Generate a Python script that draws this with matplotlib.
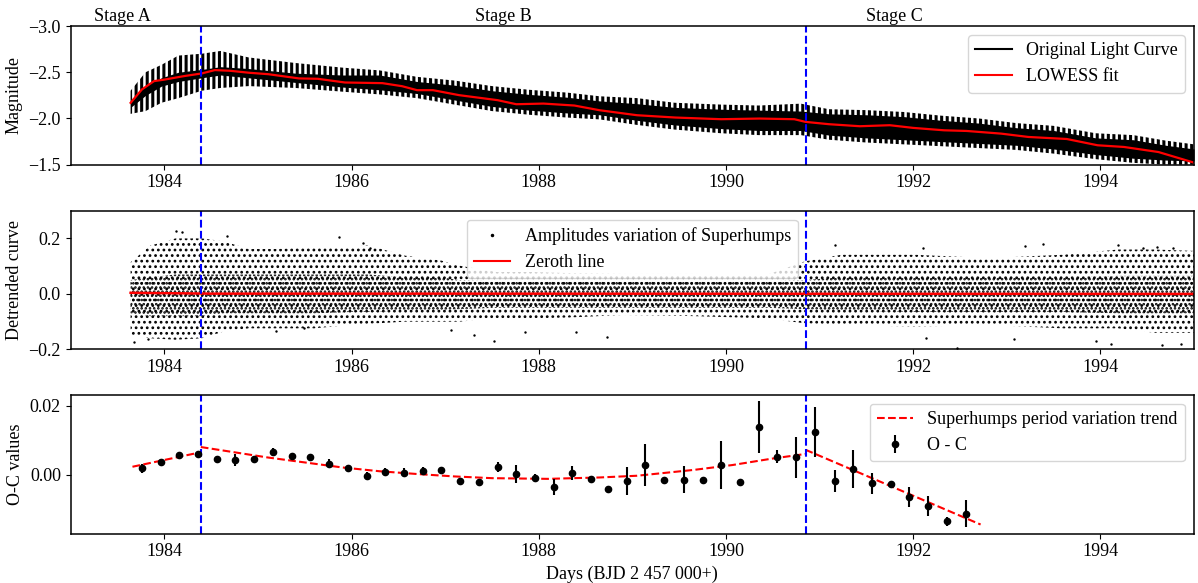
import matplotlib
matplotlib.use("Agg")
import matplotlib.pyplot as plt
import matplotlib.transforms as mtransforms
from matplotlib.lines import Line2D

plt.rcParams["font.family"] = ["Liberation Serif", "DejaVu Serif"]
plt.rcParams["font.size"] = 13
plt.rcParams["axes.linewidth"] = 1.1

# --- Stage boundaries (days) ---
STAGE_AB = 1984.39
STAGE_BC = 1990.85
STAGE_LABELS = ["Stage A", "Stage B", "Stage C"]
STAGE_LABEL_X = [1983.55, 1987.62, 1991.80]

# --- Top panel: light curve envelope (magnitudes) ---
LC_X = [1983.64, 1983.80, 1983.97, 1984.15, 1984.40, 1984.60, 1984.90, 1985.40,
        1985.90, 1986.30, 1986.70, 1987.10, 1987.50, 1987.90, 1988.30, 1988.65,
        1989.05, 1989.45, 1989.95, 1990.35, 1990.80, 1991.10, 1991.50, 1991.90,
        1992.30, 1992.70, 1993.10, 1993.50, 1993.95, 1994.35, 1994.70, 1995.00]
LC_BRIGHT = [-2.30, -2.50, -2.58, -2.68, -2.70, -2.73, -2.66, -2.60,
             -2.55, -2.52, -2.45, -2.41, -2.35, -2.31, -2.28, -2.24,
             -2.22, -2.17, -2.15, -2.14, -2.16, -2.10, -2.09, -2.07,
             -2.03, -2.00, -1.95, -1.92, -1.84, -1.82, -1.76, -1.72]
LC_FAINT = [-2.05, -2.08, -2.17, -2.22, -2.30, -2.33, -2.35, -2.33,
            -2.29, -2.26, -2.22, -2.15, -2.08, -2.04, -2.01, -1.99,
            -1.93, -1.88, -1.84, -1.82, -1.82, -1.77, -1.74, -1.72,
            -1.70, -1.68, -1.66, -1.62, -1.56, -1.52, -1.50, -1.50]
LC_CORE_BRIGHT = [-2.20, -2.36, -2.44, -2.50, -2.53, -2.56, -2.54, -2.49,
                  -2.47, -2.47, -2.40, -2.36, -2.30, -2.26, -2.23, -2.19,
                  -2.16, -2.12, -2.10, -2.09, -2.08, -2.05, -2.04, -2.02,
                  -1.98, -1.95, -1.90, -1.87, -1.79, -1.77, -1.71, -1.67]
LC_CORE_FAINT = [-2.12, -2.25, -2.35, -2.40, -2.44, -2.47, -2.44, -2.39,
                 -2.34, -2.31, -2.27, -2.20, -2.13, -2.09, -2.06, -2.04,
                 -1.98, -1.93, -1.89, -1.87, -1.87, -1.82, -1.79, -1.77,
                 -1.75, -1.73, -1.71, -1.67, -1.61, -1.57, -1.55, -1.54]

# LOWESS fit
LOWESS_X = [1983.64, 1983.76, 1983.89, 1984.00, 1984.21, 1984.40, 1984.54, 1984.70,
            1984.91, 1985.11, 1985.44, 1985.64, 1985.93, 1986.33, 1986.54, 1986.70,
            1986.87, 1987.15, 1987.56, 1987.76, 1988.05, 1988.38, 1988.65, 1989.05,
            1989.46, 1989.95, 1990.36, 1990.73, 1990.85, 1991.10, 1991.43, 1991.75,
            1992.00, 1992.33, 1992.57, 1992.94, 1993.23, 1993.64, 1993.97, 1994.25,
            1994.62, 1995.00]
LOWESS_Y = [-2.169, -2.313, -2.404, -2.420, -2.458, -2.487, -2.523, -2.516,
            -2.494, -2.479, -2.433, -2.429, -2.389, -2.382, -2.349, -2.306,
            -2.306, -2.252, -2.198, -2.154, -2.161, -2.140, -2.089, -2.035,
            -2.010, -1.992, -1.999, -1.992, -1.963, -1.938, -1.916, -1.927,
            -1.898, -1.872, -1.865, -1.836, -1.800, -1.778, -1.710, -1.692,
            -1.637, -1.522]

# --- Middle panel: detrended scatter envelope ---
DT_X = [1983.64, 1983.85, 1984.12, 1984.40, 1984.63, 1984.90, 1985.21, 1985.60,
        1986.00, 1986.18, 1986.57, 1986.96, 1987.15, 1987.54, 1987.93, 1988.32,
        1988.90, 1989.65, 1990.44, 1990.84, 1991.23, 1992.02, 1992.81, 1993.59,
        1994.19, 1994.58, 1995.00]
DT_HI = [0.114, 0.174, 0.200, 0.200, 0.190, 0.162, 0.162, 0.170,
         0.170, 0.175, 0.138, 0.120, 0.102, 0.079, 0.079, 0.075,
         0.072, 0.072, 0.069, 0.117, 0.141, 0.141, 0.129, 0.141,
         0.160, 0.160, 0.155]
DT_LO = [-0.148, -0.160, -0.165, -0.160, -0.136, -0.124, -0.124, -0.124,
         -0.112, -0.108, -0.100, -0.100, -0.100, -0.088, -0.088, -0.085,
         -0.076, -0.080, -0.088, -0.106, -0.112, -0.118, -0.112, -0.124,
         -0.124, -0.140, -0.140]
DT_CORE_HI = [0.05, 0.06, 0.07, 0.07, 0.07, 0.07, 0.07, 0.07,
              0.07, 0.07, 0.06, 0.06, 0.05, 0.045, 0.045, 0.045,
              0.045, 0.045, 0.045, 0.05, 0.06, 0.06, 0.06, 0.06,
              0.065, 0.065, 0.065]
DT_CORE_LO = [-0.07, -0.08, -0.08, -0.08, -0.07, -0.07, -0.07, -0.07,
              -0.065, -0.065, -0.06, -0.06, -0.055, -0.05, -0.05, -0.05,
              -0.05, -0.05, -0.05, -0.055, -0.06, -0.065, -0.065, -0.065,
              -0.07, -0.07, -0.07]
# isolated points outside the dense band
OUT_X = [1983.68, 1983.83, 1984.12, 1984.19, 1984.67, 1985.19, 1985.49, 1985.87,
         1986.12, 1986.20, 1987.06, 1987.31, 1987.52, 1987.85, 1988.40, 1988.73,
         1991.16, 1992.10, 1992.14, 1992.47, 1993.08, 1993.19, 1993.39, 1993.95,
         1994.11, 1994.19, 1994.46, 1994.60, 1994.66, 1994.78, 1994.86]
OUT_Y = [-0.175, -0.163, 0.227, 0.225, 0.207, -0.133, -0.124, 0.205,
         0.182, 0.164, -0.130, -0.148, -0.171, -0.138, -0.138, -0.154,
         0.177, 0.165, -0.158, -0.194, -0.161, 0.171, 0.180, -0.169,
         -0.182, 0.177, 0.165, 0.169, -0.185, 0.165, -0.179]
ZERO_X = [1983.64, 1984.50, 1987.00, 1995.00]
ZERO_Y = [0.004, 0.001, 0.001, 0.0]

# --- Bottom panel: O-C values ---
OC_X = [1983.76, 1983.97, 1984.16, 1984.36, 1984.56, 1984.76, 1984.96, 1985.16,
        1985.36, 1985.56, 1985.76, 1985.96, 1986.16, 1986.36, 1986.56, 1986.76,
        1986.96, 1987.16, 1987.36, 1987.56, 1987.76, 1987.96, 1988.16, 1988.36,
        1988.56, 1988.74, 1988.94, 1989.14, 1989.34, 1989.55, 1989.75, 1989.95,
        1990.15, 1990.35, 1990.55, 1990.75, 1990.95, 1991.16, 1991.36, 1991.56,
        1991.76, 1991.96, 1992.16, 1992.36, 1992.56]
OC_Y = [0.0018, 0.0037, 0.0057, 0.0059, 0.0046, 0.0043, 0.0046, 0.0066,
        0.0053, 0.0050, 0.0032, 0.0020, -0.0004, 0.0009, 0.0006, 0.0012,
        0.0014, -0.0018, -0.0021, 0.0023, 0.0001, -0.0009, -0.0035, 0.0006,
        -0.0012, -0.0040, -0.0018, 0.0028, -0.0016, -0.0014, -0.0016, 0.0028,
        -0.0022, 0.0138, 0.0052, 0.0050, 0.0123, -0.0018, 0.0017, -0.0025,
        -0.0028, -0.0064, -0.0090, -0.0134, -0.0113]
OC_ERR = [0.0014, 0.0008, 0.0007, 0.0007, 0.0009, 0.0017, 0.0008, 0.0011,
          0.0011, 0.0008, 0.0013, 0.0007, 0.0011, 0.0009, 0.0013, 0.0011,
          0.0008, 0.0007, 0.0007, 0.0015, 0.0026, 0.0011, 0.0024, 0.0020,
          0.0008, 0.0006, 0.0040, 0.0060, 0.0008, 0.0038, 0.0007, 0.0069,
          0.0008, 0.0075, 0.0018, 0.0060, 0.0073, 0.0033, 0.0055, 0.0030,
          0.0007, 0.0029, 0.0028, 0.0013, 0.0039]
TREND_A_X = [1983.66, 1984.39]
TREND_A_Y = [0.0023, 0.0065]
TREND_B_X = [1984.39, 1985.10, 1985.90, 1986.30, 1986.70, 1987.10, 1987.50, 1988.10,
             1988.65, 1989.05, 1989.66, 1990.07, 1990.48, 1990.85]
TREND_B_Y = [0.0080, 0.0050, 0.0021, 0.0010, 0.0002, -0.0005, -0.0010, -0.0012,
             -0.0008, -0.0003, 0.0014, 0.0028, 0.0046, 0.0060]
TREND_C_X = [1990.85, 1992.72]
TREND_C_Y = [0.0072, -0.0144]

fig = plt.figure(figsize=(11.98, 5.83), dpi=100)
ax_lc = fig.add_axes([0.0590, 0.7175, 0.9377, 0.2379])
ax_dt = fig.add_axes([0.0590, 0.4007, 0.9377, 0.2379])
ax_oc = fig.add_axes([0.0590, 0.0849, 0.9377, 0.2379])

# top: light curve (dense oscillations drawn as a band)
with plt.rc_context({"hatch.linewidth": 2.2}):
    ax_lc.fill_between(LC_X, LC_BRIGHT, LC_FAINT, facecolor="none",
                       edgecolor="black", hatch="|||", linewidth=0)
ax_lc.fill_between(LC_X, LC_CORE_BRIGHT, LC_CORE_FAINT, color="black", linewidth=0)
ax_lc.plot(LOWESS_X, LOWESS_Y, color="red", lw=1.6)
ax_lc.set_ylim(-1.5, -3.0)
ax_lc.set_yticks([-3.0, -2.5, -2.0, -1.5])
ax_lc.set_ylabel("Magnitude")
lc_handles = [Line2D([], [], color="black", lw=1.5, label="Original Light Curve"),
              Line2D([], [], color="red", lw=1.5, label="LOWESS fit")]
ax_lc.legend(handles=lc_handles, loc="upper right")

trans = mtransforms.blended_transform_factory(ax_lc.transData, ax_lc.transAxes)
for label, xpos in zip(STAGE_LABELS, STAGE_LABEL_X):
    ax_lc.text(xpos, 1.07, label, transform=trans, ha="center", va="center")

# middle: detrended curve
with plt.rc_context({"hatch.linewidth": 1.2}):
    ax_dt.fill_between(DT_X, DT_HI, DT_LO, facecolor="none", edgecolor="black",
                       hatch="...", linewidth=0)
    ax_dt.fill_between(DT_X, DT_CORE_HI, DT_CORE_LO, facecolor="none",
                       edgecolor="black", hatch="....", linewidth=0)
ax_dt.scatter(OUT_X, OUT_Y, s=3, color="black", linewidths=0)
ax_dt.plot(ZERO_X, ZERO_Y, color="red", lw=1.8)
ax_dt.set_ylim(-0.2, 0.3)
ax_dt.set_yticks([-0.2, 0.0, 0.2])
ax_dt.set_ylabel("Detrended curve")
dt_handles = [Line2D([], [], ls="none", marker=".", ms=3, color="black",
                     label="Amplitudes variation of Superhumps"),
              Line2D([], [], color="red", lw=1.5, label="Zeroth line")]
ax_dt.legend(handles=dt_handles, loc="upper center")

# bottom: O-C
ax_oc.plot(TREND_A_X, TREND_A_Y, color="red", ls="--", lw=1.5,
           label="Superhumps period variation trend")
ax_oc.plot(TREND_B_X, TREND_B_Y, color="red", ls="--", lw=1.5)
ax_oc.plot(TREND_C_X, TREND_C_Y, color="red", ls="--", lw=1.5)
ax_oc.errorbar(OC_X, OC_Y, yerr=OC_ERR, fmt="o", color="black", ms=4.5,
               elinewidth=1.5, capsize=0, label="O - C")
ax_oc.set_ylim(-0.0170, 0.0231)
ax_oc.set_yticks([0.0, 0.02])
ax_oc.set_yticklabels(["0.00", "0.02"])
ax_oc.set_ylabel("O-C values")
ax_oc.set_xlabel("Days (BJD 2 457 000+)")
ax_oc.legend(loc="upper right")

for ax in (ax_lc, ax_dt, ax_oc):
    ax.set_xlim(1983.0, 1995.0)
    ax.set_xticks([1984, 1986, 1988, 1990, 1992, 1994])
    ax.axvline(STAGE_AB, color="blue", ls="--", lw=1.5)
    ax.axvline(STAGE_BC, color="blue", ls="--", lw=1.5)

fig.savefig("out.png", dpi=100)
